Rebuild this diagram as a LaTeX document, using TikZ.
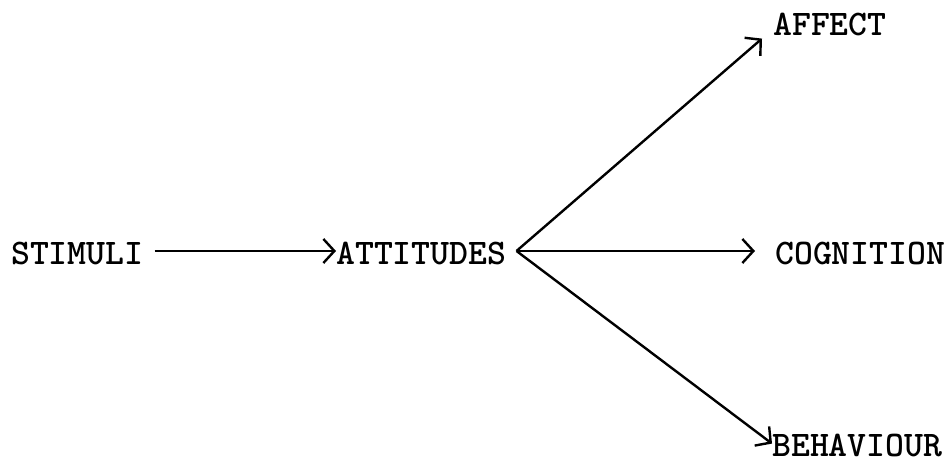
\documentclass[tikz,border=0pt]{standalone}
\usepackage{fontspec}
\newfontfamily\tw{lmmonolt10-bold.otf}
\usetikzlibrary{arrows.meta}
\begin{document}
\begin{tikzpicture}[x=1pt,y=-1pt,
  lbl/.style={inner sep=0pt, anchor=base west, font=\fontsize{36}{38}\selectfont\tw},
  arr/.style={line width=2.4pt, -{Straight Barb[length=11pt,width=24pt,line width=2.4pt]}}]
\useasboundingbox (0,0) rectangle (950,464);
\node[lbl] (stim) at (11,264) {STIMULI};
\node[lbl] (att)  at (336,264) {ATTITUDES};
\node[lbl] (aff)  at (773,35) {AFFECT};
\node[lbl] (cog)  at (775,264) {COGNITION};
\node[lbl] (beh)  at (772,456) {BEHAVIOUR};
\coordinate (fan) at ([xshift=10pt,yshift=2pt]att.east);
\draw[arr, shorten <=11pt] (stim.east |- fan) -- (att.west |- fan);
\draw[arr] (fan) -- ([xshift=-11pt,yshift=-3pt]aff.south west);
\draw[arr, shorten >=20pt] (fan) -- (cog.west |- fan);
\draw[arr] (fan) -- ([xshift=0pt,yshift=13pt]beh.south west);
\end{tikzpicture}
\end{document}
